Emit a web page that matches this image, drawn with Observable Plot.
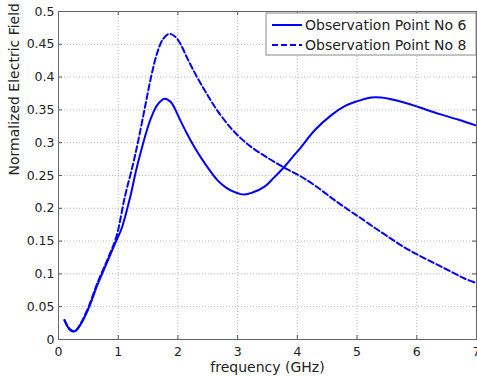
<!DOCTYPE html>
<html>
<head>
<meta charset="utf-8">
<script src="https://cdn.jsdelivr.net/npm/d3@7"></script>
<script src="https://cdn.jsdelivr.net/npm/@observablehq/plot@0.6"></script>
<style>
  html, body { margin: 0; padding: 0; background: #fff; }
  #chart { width: 477px; height: 377px; }
</style>
</head>
<body>
<div id="chart"></div>
<script>
// Frequency samples (GHz) and normalized field for observation point 6
const freq6 = [0.10, 0.15, 0.20, 0.27, 0.35, 0.49, 0.66, 0.83, 0.97, 1.06, 1.20, 1.30, 1.37, 1.48, 1.56, 1.65, 1.776, 1.88, 2.04, 2.15, 2.29, 2.38, 2.50, 2.66, 2.80, 2.94, 3.11, 3.25, 3.45, 3.60, 3.78, 3.92, 4.06, 4.29, 4.57, 4.80, 4.96, 5.24, 5.40, 5.53, 5.80, 6.04, 6.37, 6.70, 7.00];
const field6 = [0.029, 0.020, 0.014, 0.0125, 0.020, 0.0445, 0.085, 0.121, 0.151, 0.170, 0.217, 0.258, 0.283, 0.319, 0.340, 0.357, 0.367, 0.362, 0.334, 0.314, 0.291, 0.278, 0.262, 0.243, 0.232, 0.225, 0.221, 0.224, 0.233, 0.246, 0.263, 0.278, 0.293, 0.319, 0.342, 0.356, 0.362, 0.369, 0.369, 0.367, 0.361, 0.354, 0.344, 0.335, 0.326];

// Frequency samples (GHz) and normalized field for observation point 8
const freq8 = [0.10, 0.15, 0.20, 0.27, 0.35, 0.49, 0.66, 0.83, 0.97, 1.11, 1.25, 1.34, 1.45, 1.55, 1.65, 1.75, 1.855, 1.95, 2.04, 2.15, 2.32, 2.50, 2.66, 2.88, 3.05, 3.22, 3.50, 3.78, 4.05, 4.29, 4.60, 4.88, 5.03, 5.30, 5.53, 5.80, 6.04, 6.30, 6.54, 6.80, 7.00];
const field8 = [0.030, 0.021, 0.015, 0.0125, 0.021, 0.047, 0.088, 0.124, 0.157, 0.217, 0.268, 0.305, 0.355, 0.400, 0.436, 0.458, 0.466, 0.462, 0.451, 0.430, 0.400, 0.372, 0.349, 0.323, 0.307, 0.294, 0.277, 0.262, 0.249, 0.235, 0.214, 0.196, 0.187, 0.170, 0.156, 0.140, 0.128, 0.116, 0.105, 0.093, 0.086];

const seriesNames = ["Observation Point No 6", "Observation Point No 8"];
const xTicks = [0, 1, 2, 3, 4, 5, 6, 7];
const yTicks = [0, 0.05, 0.1, 0.15, 0.2, 0.25, 0.3, 0.35, 0.4, 0.45, 0.5];
const xLabel = "frequency (GHz)";
const yLabel = "Normalized Electric Field";

const pts6 = freq6.map((f, i) => ({f, v: field6[i]}));
const pts8 = freq8.map((f, i) => ({f, v: field8[i]}));

const W = 477, H = 377;
const M = {top: 11, right: 1, bottom: 38, left: 58};
const plotW = W - M.left - M.right;
const plotH = H - M.top - M.bottom;
const FONT = "DejaVu Sans, sans-serif";
const BLUE = "#0000ff";
const TICK = 4;

const chart = Plot.plot({
  width: W,
  height: H,
  marginTop: M.top,
  marginRight: M.right,
  marginBottom: M.bottom,
  marginLeft: M.left,
  style: {fontFamily: FONT, fontSize: "12.5px", color: "#222", background: "#fff"},
  x: {domain: [0, 7], ticks: xTicks},
  y: {domain: [0, 0.5], ticks: yTicks},
  marks: [
    Plot.gridX(xTicks, {stroke: "#b8b8b8", strokeOpacity: 1, strokeDasharray: "1,2"}),
    Plot.gridY(yTicks, {stroke: "#b8b8b8", strokeOpacity: 1, strokeDasharray: "1,2"}),
    // inward tick marks on all four sides
    Plot.tickX(xTicks, {x: d => d, insetTop: plotH - TICK, stroke: "#555"}),
    Plot.tickX(xTicks, {x: d => d, insetBottom: plotH - TICK, stroke: "#555"}),
    Plot.tickY(yTicks, {y: d => d, insetRight: plotW - TICK, stroke: "#555"}),
    Plot.tickY(yTicks, {y: d => d, insetLeft: plotW - TICK, stroke: "#555"}),
    Plot.axisX(xTicks, {tickSize: 0, tickPadding: 8, label: null, fontSize: 12.5}),
    Plot.axisY(yTicks, {tickSize: 0, tickPadding: 4, label: null, fontSize: 12.5, tickFormat: d => String(d)}),
    Plot.line(pts6, {x: "f", y: "v", stroke: BLUE, strokeWidth: 2, curve: "catmull-rom"}),
    Plot.line(pts8, {x: "f", y: "v", stroke: BLUE, strokeWidth: 2, strokeDasharray: "6,3", curve: "catmull-rom"}),
    Plot.frame({stroke: "#666"}),
    Plot.text([xLabel], {text: d => d, frameAnchor: "bottom", lineAnchor: "middle", dy: 28, fontSize: 14, fill: "#222"}),
    Plot.text([yLabel], {text: d => d, frameAnchor: "left", lineAnchor: "middle", dx: -44, rotate: -90, fontSize: 14, fill: "#222"})
  ]
});

// Legend box in the upper right corner of the plot area
const svg = d3.select(chart);
const lg = svg.append("g").attr("transform", `translate(${M.left + plotW - 210},${M.top + 2})`);
lg.append("rect")
  .attr("x", 0).attr("y", 0).attr("width", 210).attr("height", 42)
  .attr("fill", "#fff").attr("stroke", "#888").attr("stroke-width", 1);
seriesNames.forEach((name, i) => {
  const y = 12 + i * 20;
  lg.append("line")
    .attr("x1", 6).attr("x2", 36).attr("y1", y).attr("y2", y)
    .attr("stroke", BLUE).attr("stroke-width", 2)
    .attr("stroke-dasharray", i === 1 ? "6,3" : null);
  lg.append("text")
    .attr("x", 39).attr("y", y).attr("dy", "0.36em")
    .attr("text-anchor", "start")
    .attr("font-family", FONT).attr("font-size", 14).attr("fill", "#222")
    .text(name);
});

document.getElementById("chart").appendChild(chart);
</script>
</body>
</html>
